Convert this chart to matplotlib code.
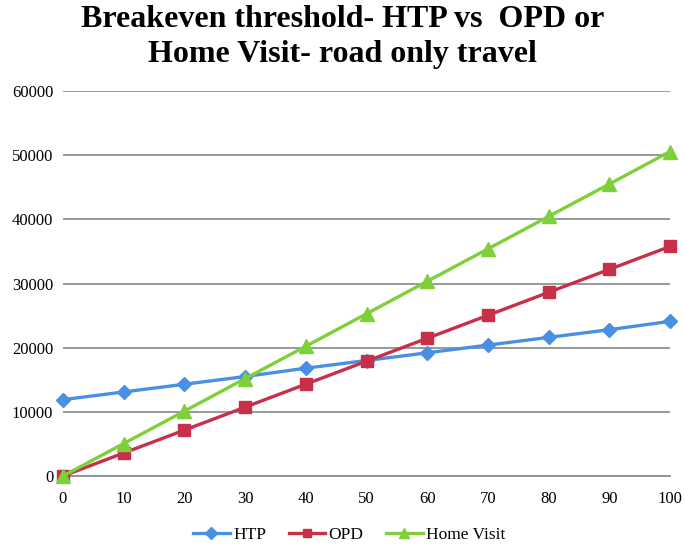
import matplotlib
matplotlib.use("Agg")
import matplotlib.pyplot as plt

x_vals = [0, 10, 20, 30, 40, 50, 60, 70, 80, 90, 100]
htp = [11900, 13100, 14300, 15500, 16800, 18000, 19200, 20400, 21600, 22800, 24100]
opd = [0, 3580, 7150, 10730, 14310, 17890, 21460, 25040, 28620, 32200, 35770]
home = [0, 5060, 10110, 15170, 20220, 25280, 30340, 35390, 40450, 45500, 50560]
y_ticks = [0, 10000, 20000, 30000, 40000, 50000, 60000]
title = "Breakeven threshold- HTP vs  OPD or\nHome Visit- road only travel"

serif = ["Liberation Serif", "DejaVu Serif"]

fig = plt.figure(figsize=(6.85, 5.45), dpi=100)
ax = fig.add_axes([63/685, 1-476/545, (670-63)/685, (476-91)/545])

ax.plot(x_vals, htp, color="#4A90E2", lw=2.4, marker="D", ms=7.5, label="HTP", clip_on=False, zorder=3)
ax.plot(x_vals, opd, color="#C8304A", lw=2.4, marker="s", ms=8.5, label="OPD", clip_on=False, zorder=3)
ax.plot(x_vals, home, color="#7ED03A", lw=2.4, marker="^", ms=9.5, label="Home Visit", clip_on=False, zorder=4)

ax.set_xlim(0, 100)
ax.set_ylim(0, 60000)
ax.set_xticks(x_vals)
ax.set_yticks(y_ticks)
ax.yaxis.grid(True, color="#8a9393", lw=1.3)
ax.set_axisbelow(True)
for s in ["top", "right", "left"]:
    ax.spines[s].set_visible(False)
ax.spines["bottom"].set_color("#8a9393")
ax.spines["bottom"].set_linewidth(1.3)
ax.tick_params(axis="x", length=0, pad=11)
ax.tick_params(axis="y", length=0, pad=7)
for lab in ax.get_xticklabels() + ax.get_yticklabels():
    lab.set_family(serif)
    lab.set_fontsize(12)

fig.text(0.5, 0.99, title, ha="center", va="top", family=serif, fontweight="bold",
         fontsize=23, linespacing=1.25)

leg = fig.legend(loc="lower center", bbox_to_anchor=(0.51, -0.025), ncol=3, frameon=False,
                 prop={"family": serif, "size": 12.5}, handlelength=2.1, columnspacing=1.3,
                 handletextpad=0.2, markerscale=0.75)

fig.savefig("out.png", dpi=100)
